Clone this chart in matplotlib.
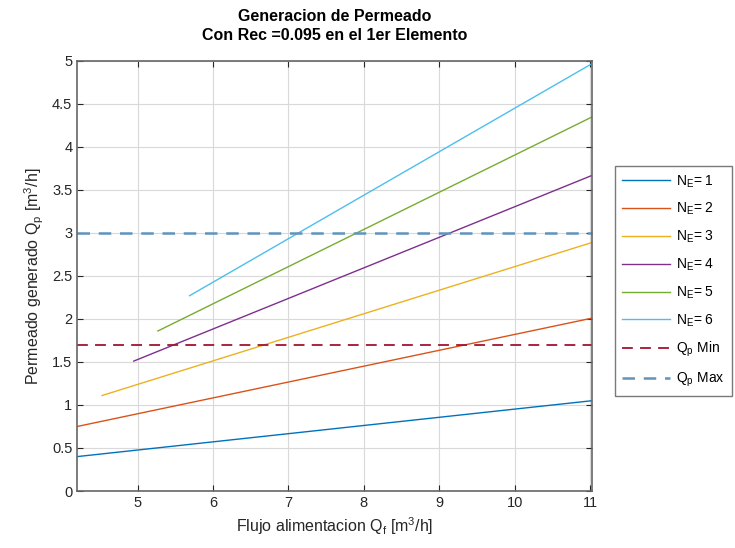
import numpy as np
import matplotlib
matplotlib.use('Agg')
import matplotlib.pyplot as plt

plt.rcParams['font.family'] = ['Liberation Sans', 'DejaVu Sans']
plt.rcParams['mathtext.default'] = 'regular'

# Datos (extremos de cada recta)
n_elementos = [1, 2, 3, 4, 5, 6]
qf_inicio = [4.2, 4.2, 4.53, 4.95, 5.27, 5.69]
qf_fin = [11.03, 11.03, 11.03, 11.03, 11.03, 11.03]
qp_inicio = [0.40, 0.75, 1.11, 1.51, 1.86, 2.27]
qp_fin = [1.05, 2.01, 2.89, 3.67, 4.35, 4.97]

qp_min = 1.7
qp_max = 3.0
x_lim = [4.2, 11.03]

colores = [(0, 0.447, 0.741), (0.85, 0.325, 0.098), (0.929, 0.694, 0.125),
           (0.494, 0.184, 0.556), (0.466, 0.674, 0.188), (0.301, 0.745, 0.933)]

fig = plt.figure(figsize=(7.35, 5.48), dpi=100)
ax = fig.add_axes([0.105, 0.104, 0.701, 0.785])

for i, n in enumerate(n_elementos):
    ax.plot([qf_inicio[i], qf_fin[i]], [qp_inicio[i], qp_fin[i]],
            color=colores[i], lw=1.0, label='N$_E$= %d' % n)

ax.plot(x_lim, [qp_min, qp_min], '--', color=(0.635, 0.078, 0.184), lw=1.3,
        dashes=(6, 4), label='Q$_p$ Min')
ax.plot(x_lim, [qp_max, qp_max], '--', color=(0.38, 0.58, 0.74), lw=1.8,
        dashes=(5, 3.5), label='Q$_p$ Max')

ax.set_xlim(x_lim)
ax.set_ylim(0, 5)
ax.set_xticks([5, 6, 7, 8, 9, 10, 11])
ax.set_yticks(np.arange(0, 5.01, 0.5))
ax.set_yticklabels(['0', '0.5', '1', '1.5', '2', '2.5', '3', '3.5', '4', '4.5', '5'])
ax.grid(True, color=(0.85, 0.85, 0.85), lw=0.8)
ax.set_axisbelow(True)
ax.tick_params(direction='in', top=True, right=True, labelsize=10.5,
               colors=(0.15, 0.15, 0.15), length=4)
for s in ax.spines.values():
    s.set_color((0.4, 0.4, 0.4))
    s.set_linewidth(1.2)

ax.set_xlabel('Flujo alimentacion Q$_f$ [m$^3$/h]', fontsize=11.5, color=(0.15, 0.15, 0.15))
ax.set_ylabel('Permeado generado Q$_p$ [m$^3$/h]', fontsize=11.5, color=(0.15, 0.15, 0.15))
ax.set_title('Generacion de Permeado\nCon Rec =0.095 en el 1er Elemento',
             fontsize=11.5, fontweight='bold', linespacing=1.35, pad=15)

leg = fig.legend(loc='center left', bbox_to_anchor=(0.827, 0.487), fontsize=10,
                 frameon=True, fancybox=False, edgecolor=(0.35, 0.35, 0.35),
                 handlelength=3.5, labelspacing=0.82, borderpad=0.5, handletextpad=0.4)
leg.get_frame().set_linewidth(1.0)

fig.savefig('out.png', dpi=100)
